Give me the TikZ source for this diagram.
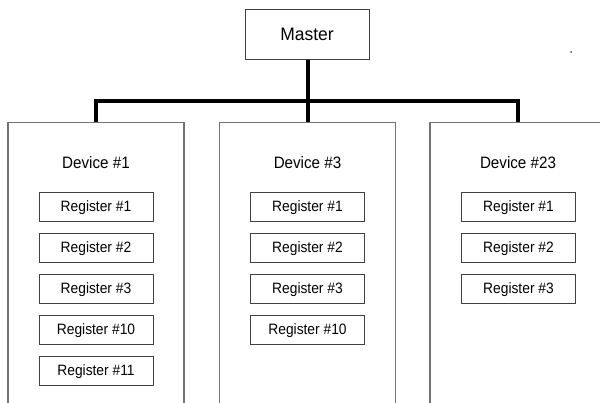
\documentclass[tikz,border=0pt]{standalone}
\usepackage{fontspec}
\setmainfont{Liberation Sans}
\newfontfamily\narrowarial[FakeStretch=0.92]{Liberation Sans}
\newfontfamily\masterarial[FakeStretch=0.97]{Liberation Sans}
\begin{document}
\begin{tikzpicture}[x=1pt,y=-1pt,
  masterbox/.style={draw=black!75, line width=1pt, minimum width=124pt, minimum height=50pt, inner sep=0pt,
    font=\masterarial\fontsize{18}{21}\selectfont, text height=12.9pt, text depth=0pt},
  devbox/.style={draw=black!55, line width=1.3pt, minimum width=176pt, minimum height=300pt, inner sep=0pt, anchor=north},
  devtitle/.style={inner sep=0pt, font=\narrowarial\fontsize{16.5}{19}\selectfont, text height=11.8pt, text depth=0pt},
  regbox/.style={draw=black!75, line width=1pt, minimum width=114pt, minimum height=29pt, inner sep=0pt,
    font=\narrowarial\fontsize{15}{17}\selectfont, text height=10.7pt, text depth=0pt},
  bus/.style={draw=black, line width=4pt, line join=miter, line cap=butt}]
\useasboundingbox (0,0) rectangle (600,402);
\clip (0,0) rectangle (600,402);
\node[masterbox] (master) at (307,34) {Master};
\node[devbox] (dev1) at (96,122) {};
\node[devbox] (dev3) at (307.5,122) {};
\node[devbox] (dev23) at (518,122) {};
\node[devtitle] (t1) at (96,163) {Device \#1};
\node[devtitle] (t3) at (307.5,163) {Device \#3};
\node[devtitle] (t23) at (518,163) {Device \#23};
\coordinate (busy) at (308,101);
\draw[bus] (dev1.north) -- (dev1.north |- busy) -- (dev23.north |- busy) -- (dev23.north);
\draw[bus] (master.south -| dev3.north) -- (dev3.north);
% registers device 1
\node[regbox] (a1) at (96,206.5) {Register \#1};
\node[regbox] (a2) at (96,247.5) {Register \#2};
\node[regbox] (a3) at (96,288.5) {Register \#3};
\node[regbox] (a10) at (96,329.5) {Register \#10};
\node[regbox] (a11) at (96,370.5) {Register \#11};
% device 3
\node[regbox] (b1) at (307.5,206.5) {Register \#1};
\node[regbox] (b2) at (307.5,247.5) {Register \#2};
\node[regbox] (b3) at (307.5,288.5) {Register \#3};
\node[regbox] (b10) at (307.5,329.5) {Register \#10};
% device 23
\node[regbox] (c1) at (518.5,206.5) {Register \#1};
\node[regbox] (c2) at (518.5,247.5) {Register \#2};
\node[regbox] (c3) at (518.5,288.5) {Register \#3};
\fill[black!70] (571,52) circle (1pt);
\end{tikzpicture}
\end{document}
